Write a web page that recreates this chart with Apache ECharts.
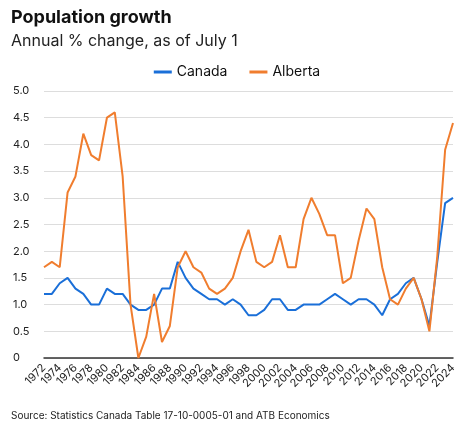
<!DOCTYPE html>
<html><head><meta charset="utf-8">
<script src="https://cdn.jsdelivr.net/npm/echarts@6/dist/echarts.min.js"></script>
<style>html,body{margin:0;padding:0;background:#fff}#c{width:474px;height:426px}</style>
</head><body><div id="c"></div>
<script>
const years = [];
for (let y = 1972; y <= 2024; y++) years.push(String(y));
const canada = [1.2,1.2,1.4,1.5,1.3,1.2,1.0,1.0,1.3,1.2,
 1.2,1.0,0.9,0.9,1.0,1.3,1.3,1.8,1.5,1.3,
 1.2,1.1,1.1,1.0,1.1,1.0,0.8,0.8,0.9,1.1,
 1.1,0.9,0.9,1.0,1.0,1.0,1.1,1.2,1.1,1.0,
 1.1,1.1,1.0,0.8,1.1,1.2,1.4,1.5,1.1,0.6,
 1.8,2.9,3.0];
const alberta = [1.7,1.8,1.7,3.1,3.4,4.2,3.8,3.7,4.5,4.6,
 3.4,1.0,0.0,0.4,1.2,0.3,0.6,1.7,2.0,1.7,
 1.6,1.3,1.2,1.3,1.5,2.0,2.4,1.8,1.7,1.8,
 2.3,1.7,1.7,2.6,3.0,2.7,2.3,2.3,1.4,1.5,
 2.2,2.8,2.6,1.7,1.1,1.0,1.3,1.5,1.1,0.5,
 1.9,3.9,4.4];
const font = 'Inter, "Noto Sans", sans-serif';
const chart = echarts.init(document.getElementById('c'));
chart.setOption({
  animation:false,
  textStyle:{fontFamily:font},
  title:[
    {text:'Population growth',left:6,top:4,textStyle:{fontSize:18,fontWeight:'bold',color:'#111',fontFamily:font}},
    {text:'Annual % change, as of July 1',left:6,top:28,textStyle:{fontSize:16,fontWeight:'normal',color:'#222',fontFamily:font}},
    {text:'Source: Statistics Canada Table 17-10-0005-01 and ATB Economics',left:6,top:406,textStyle:{fontSize:10,fontWeight:'normal',color:'#222',fontFamily:font}}
  ],
  legend:{top:60,left:'center',itemWidth:18,itemHeight:3,icon:'rect',itemGap:22,textStyle:{fontSize:14,color:'#111'},
    data:['Canada','Alberta']},
  grid:{left:44,right:21,top:91,bottom:68},
  xAxis:{type:'category',data:years,boundaryGap:false,
    axisLine:{lineStyle:{color:'#333',width:1.5}},axisTick:{show:false},
    axisLabel:{interval:1,rotate:45,fontSize:11,color:'#222',margin:8}},
  yAxis:{type:'value',min:0,max:5,interval:0.5,
    axisLabel:{formatter:v=>v===0?'0':v.toFixed(1),fontSize:11,color:'#222',align:'left',margin:31},
    splitLine:{lineStyle:{color:'#ddd'}},axisLine:{show:false},axisTick:{show:false}},
  series:[
    {name:'Canada',type:'line',data:canada,showSymbol:false,lineStyle:{color:'#1a6fd8',width:2},itemStyle:{color:'#1a6fd8'}},
    {name:'Alberta',type:'line',data:alberta,showSymbol:false,lineStyle:{color:'#f07d2e',width:2},itemStyle:{color:'#f07d2e'}}
  ]
});
</script></body></html>
